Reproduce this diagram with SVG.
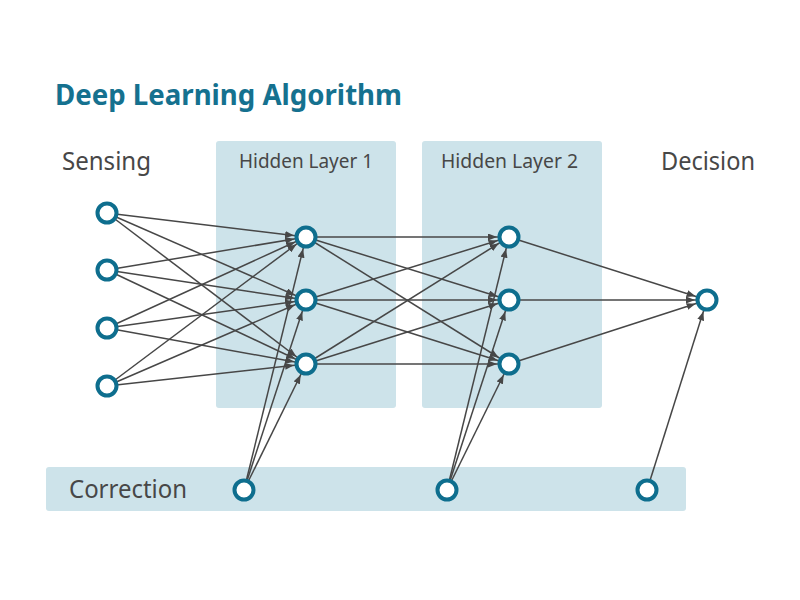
<svg xmlns="http://www.w3.org/2000/svg" width="800" height="600" viewBox="0 0 800 600">
<defs>
<style>
.panel{fill:#cde3ea}
.lbl{font-family:"Noto Sans","Open Sans",sans-serif;fill:#474747}
.title{font-family:"Noto Sans","Open Sans",sans-serif;font-weight:bold;fill:#15718f}
.node{fill:#fff;stroke:#0e6e8e;stroke-width:4}
.edge{stroke:#474747;stroke-width:1.5;fill:none;marker-end:url(#arr)}
</style>
<marker id="arr" markerUnits="userSpaceOnUse" markerWidth="9" markerHeight="7" refX="21" refY="3.5" orient="auto">
<path d="M0,0 L9,3.5 L0,7 z" fill="#474747"/>
</marker>
</defs>
<rect width="800" height="600" fill="#fff"/>
<g id="panels">
<rect id="hidden1-panel" class="panel" x="216" y="141" width="180" height="267" rx="3"/>
<rect id="hidden2-panel" class="panel" x="422" y="141" width="180" height="267" rx="3"/>
<rect id="correction-panel" class="panel" x="46" y="467" width="640" height="44" rx="3"/>
</g>
<g id="labels">
<text class="title" x="55" y="105" font-size="28" textLength="347" lengthAdjust="spacingAndGlyphs">Deep Learning Algorithm</text>
<text class="lbl" x="62" y="170" font-size="25" textLength="89" lengthAdjust="spacingAndGlyphs">Sensing</text>
<text class="lbl" x="239" y="168" font-size="20" textLength="134" lengthAdjust="spacingAndGlyphs">Hidden Layer 1</text>
<text class="lbl" x="441" y="168" font-size="20" textLength="137" lengthAdjust="spacingAndGlyphs">Hidden Layer 2</text>
<text class="lbl" x="661" y="170" font-size="25" textLength="94" lengthAdjust="spacingAndGlyphs">Decision</text>
<text class="lbl" x="69" y="498" font-size="25" textLength="118" lengthAdjust="spacingAndGlyphs">Correction</text>
</g>
<g id="connectors">
<line class="edge" x1="107" y1="213" x2="306" y2="237"/>
<line class="edge" x1="107" y1="213" x2="306" y2="300"/>
<line class="edge" x1="107" y1="213" x2="306" y2="364"/>
<line class="edge" x1="107" y1="270" x2="306" y2="237"/>
<line class="edge" x1="107" y1="270" x2="306" y2="300"/>
<line class="edge" x1="107" y1="270" x2="306" y2="364"/>
<line class="edge" x1="107" y1="328" x2="306" y2="237"/>
<line class="edge" x1="107" y1="328" x2="306" y2="300"/>
<line class="edge" x1="107" y1="328" x2="306" y2="364"/>
<line class="edge" x1="107" y1="386" x2="306" y2="237"/>
<line class="edge" x1="107" y1="386" x2="306" y2="300"/>
<line class="edge" x1="107" y1="386" x2="306" y2="364"/>
<line class="edge" x1="306" y1="237" x2="509" y2="237"/>
<line class="edge" x1="306" y1="237" x2="509" y2="300"/>
<line class="edge" x1="306" y1="237" x2="509" y2="364"/>
<line class="edge" x1="306" y1="300" x2="509" y2="237"/>
<line class="edge" x1="306" y1="300" x2="509" y2="300"/>
<line class="edge" x1="306" y1="300" x2="509" y2="364"/>
<line class="edge" x1="306" y1="364" x2="509" y2="237"/>
<line class="edge" x1="306" y1="364" x2="509" y2="300"/>
<line class="edge" x1="306" y1="364" x2="509" y2="364"/>
<line class="edge" x1="509" y1="237" x2="707" y2="300"/>
<line class="edge" x1="509" y1="300" x2="707" y2="300"/>
<line class="edge" x1="509" y1="364" x2="707" y2="300"/>
<line class="edge" x1="244" y1="490" x2="306" y2="237"/>
<line class="edge" x1="244" y1="490" x2="306" y2="300"/>
<line class="edge" x1="244" y1="490" x2="306" y2="364"/>
<line class="edge" x1="447" y1="490" x2="509" y2="237"/>
<line class="edge" x1="447" y1="490" x2="509" y2="300"/>
<line class="edge" x1="447" y1="490" x2="509" y2="364"/>
<line class="edge" x1="647" y1="490" x2="707" y2="300"/>
</g>
<g id="input-nodes">
<circle id="in1" class="node" cx="107" cy="213" r="9.5"/>
<circle id="in2" class="node" cx="107" cy="270" r="9.5"/>
<circle id="in3" class="node" cx="107" cy="328" r="9.5"/>
<circle id="in4" class="node" cx="107" cy="386" r="9.5"/>
</g>
<g id="hidden1-nodes">
<circle id="h1a" class="node" cx="306" cy="237" r="9.5"/>
<circle id="h1b" class="node" cx="306" cy="300" r="9.5"/>
<circle id="h1c" class="node" cx="306" cy="364" r="9.5"/>
</g>
<g id="hidden2-nodes">
<circle id="h2a" class="node" cx="509" cy="237" r="9.5"/>
<circle id="h2b" class="node" cx="509" cy="300" r="9.5"/>
<circle id="h2c" class="node" cx="509" cy="364" r="9.5"/>
</g>
<g id="output-node">
<circle id="out" class="node" cx="707" cy="300" r="9.5"/>
</g>
<g id="correction-nodes">
<circle id="c1" class="node" cx="244" cy="490" r="9.5"/>
<circle id="c2" class="node" cx="447" cy="490" r="9.5"/>
<circle id="c3" class="node" cx="647" cy="490" r="9.5"/>
</g>
</svg>
